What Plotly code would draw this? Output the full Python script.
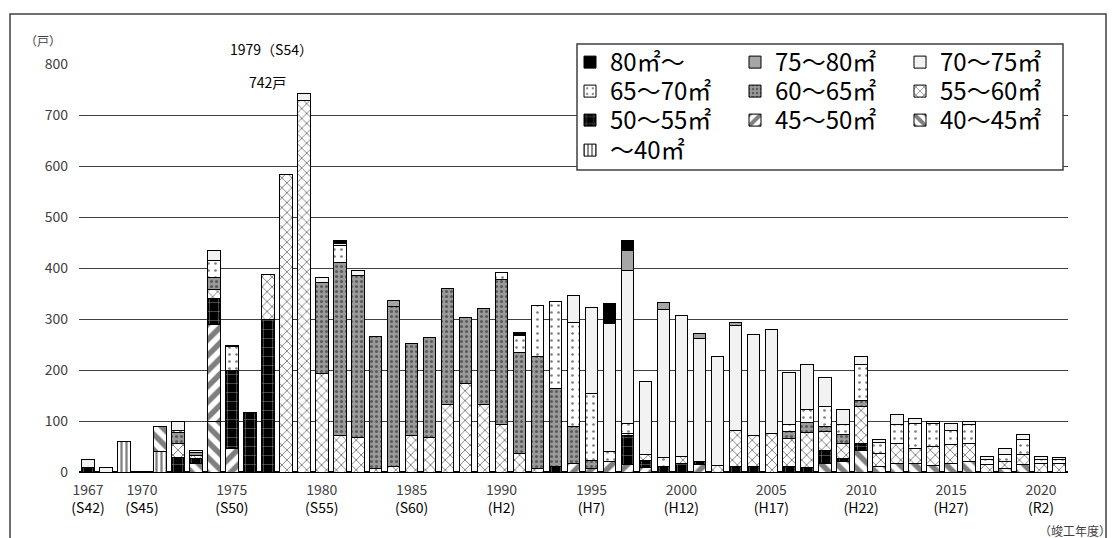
import plotly.graph_objects as go

years = list(range(1967, 2022))

# households by floor-area band (bottom -> top of each stack)
under40 = [0,0,60,0,40,0,0,0,0,0,
           0,0,0,0,0,0,0,0,0,0,
           0,0,0,0,0,0,0,0,0,0,
           0,0,0,0,0,0,0,0,0,0,
           0,0,0,0,0,0,0,0,0,0,
           0,0,0,0,0]
s40_45 = [0,0,0,0,50,0,17,100,0,0,
          0,0,0,0,0,0,0,0,0,0,
          0,0,0,0,0,0,0,0,0,0,
          0,0,0,0,0,0,0,0,0,0,
          0,17,20,43,10,17,17,12,17,21,
          0,7,14,0,0]
s45_50 = [0,0,0,0,0,0,0,190,46,0,
          0,0,0,0,0,0,0,0,0,0,
          0,0,0,0,0,0,0,16,7,20,
          14,9,0,0,14,0,0,0,0,0,
          0,0,0,0,0,0,0,0,0,0,
          0,0,0,0,0]
s50_55 = [8,0,0,0,0,28,10,50,154,116,
          299,0,0,0,0,0,0,0,0,0,
          0,0,0,0,0,0,10,0,0,0,
          58,14,10,16,7,0,11,10,0,10,
          9,25,7,13,0,0,0,0,0,0,
          0,0,0,0,0]
s55_60 = [0,0,0,0,0,28,5,18,0,0,
          88,583,728,193,72,68,6,11,72,67,
          133,174,133,93,36,6,0,0,0,0,
          4,12,0,15,0,12,71,62,76,55,
          68,37,29,72,27,39,29,38,36,35,
          14,13,21,17,17]
s60_65 = [0,0,0,0,0,22,6,24,0,0,
          0,0,0,178,339,318,260,314,179,196,
          226,129,188,285,198,220,153,73,16,0,
          0,0,0,0,0,0,0,0,0,15,
          20,10,18,13,0,0,0,0,0,0,
          0,0,0,0,0]
s65_70 = [0,0,0,0,0,3,0,33,46,0,
          0,0,0,0,34,0,0,0,0,0,
          0,0,0,14,34,100,172,204,131,20,
          19,0,18,0,0,0,0,0,0,14,
          26,39,20,70,20,38,49,45,29,37,
          11,15,29,8,7]
s70_75 = [16,9,0,0,0,19,4,20,0,0,
          0,0,14,10,3,10,0,0,0,0,
          0,0,0,0,0,0,0,53,168,252,
          301,143,290,275,241,214,206,198,204,101,
          88,57,29,16,7,19,10,5,13,6,
          5,11,10,5,4]
s75_80 = [0,0,0,0,0,0,0,0,3,0,
          0,0,0,0,0,0,0,11,0,0,
          0,0,0,0,0,0,0,0,0,0,
          38,0,14,0,10,0,5,0,0,0,
          0,0,0,0,0,0,0,0,0,0,
          0,0,0,0,0]
s80 = [0,0,0,0,0,0,0,0,0,0,
       0,0,0,0,5,0,0,0,0,0,
       0,0,0,0,5,0,0,0,0,38,
       19,0,0,0,0,0,0,0,0,0,
       0,0,0,0,0,0,0,0,0,0,
       0,0,0,0,0]

names = ["～40㎡", "40～45㎡", "45～50㎡", "50～55㎡", "55～60㎡",
         "60～65㎡", "65～70㎡", "70～75㎡", "75～80㎡", "80㎡～"]
series = [under40, s40_45, s45_50, s50_55, s55_60, s60_65, s65_70, s70_75, s75_80, s80]

tick_years = [1967, 1970, 1975, 1980, 1985, 1990, 1995, 2000, 2005, 2010, 2015, 2020]
tick_eras = ["(S42)", "(S45)", "(S50)", "(S55)", "(S60)", "(H2)", "(H7)", "(H12)",
             "(H17)", "(H22)", "(H27)", "(R2)"]

styles = [
    dict(color="white", pattern=dict(shape="|", fgcolor="black", bgcolor="white", size=5, solidity=0.45)),
    dict(color="white", pattern=dict(shape="\\", fgcolor="black", bgcolor="white", size=11, solidity=0.5)),
    dict(color="white", pattern=dict(shape="/", fgcolor="black", bgcolor="white", size=11, solidity=0.5)),
    dict(color="black", pattern=dict(shape="+", fgcolor="white", bgcolor="black", size=9, solidity=0.12)),
    dict(color="white", pattern=dict(shape="x", fgcolor="black", bgcolor="white", size=7, solidity=0.25)),
    dict(color="#8c8c8c", pattern=dict(shape=".", fgcolor="#1a1a1a", bgcolor="#9a9a9a", size=5, solidity=0.3)),
    dict(color="white", pattern=dict(shape=".", fgcolor="black", bgcolor="white", size=7, solidity=0.12)),
    dict(color="#f2f2f2"),
    dict(color="#a6a6a6"),
    dict(color="black"),
]
legend_of = ["legend4", "legend3", "legend3", "legend3", "legend2",
             "legend2", "legend2", "legend", "legend", "legend"]

FONT = "Noto Sans CJK JP"
fig = go.Figure()
for name, vals, st, lg in zip(names, series, styles, legend_of):
    marker = dict(color=st["color"], line=dict(color="black", width=1))
    if "pattern" in st:
        marker["pattern"] = st["pattern"]
    fig.add_trace(go.Bar(x=years, y=vals, name=name, marker=marker, legend=lg))

W, H = 1117, 538
L, R, T, B = 79, 49, 64, 66
pw, ph = W - L - R, H - T - B

def px_x(p):
    return (p - L) / pw

def px_y(p):
    return (H - B - p) / ph

leg_common = dict(orientation="h", traceorder="reversed", bgcolor="rgba(0,0,0,0)",
                  font=dict(family=FONT, size=24, color="black"),
                  entrywidth=120, entrywidthmode="pixels", xanchor="left", yanchor="top",
                  x=px_x(570), itemclick=False, tracegroupgap=0)
row_tops = [40, 69, 98, 128]

fig.update_layout(
    width=W, height=H,
    margin=dict(l=L, r=R, t=T, b=B, autoexpand=False),
    paper_bgcolor="white", plot_bgcolor="white",
    barmode="stack", bargap=0.3,
    font=dict(family=FONT, size=13, color="#404040"),
    legend=dict(**leg_common, y=px_y(row_tops[0])),
    legend2=dict(**leg_common, y=px_y(row_tops[1])),
    legend3=dict(**leg_common, y=px_y(row_tops[2])),
    legend4=dict(**leg_common, y=px_y(row_tops[3])),
    xaxis=dict(range=[1966.5, 2021.5], tickmode="array", tickvals=tick_years,
               ticktext=[f"{y}<br><span style='color:black'>{e}</span>" for y, e in zip(tick_years, tick_eras)],
               showgrid=False, zeroline=False, showline=False, ticks="", ticklabelstandoff=8,
               tickfont=dict(family=FONT, size=14, color="#404040")),
    yaxis=dict(range=[0, 800], dtick=100, showgrid=True, gridcolor="#404040", gridwidth=1,
               zeroline=True, zerolinecolor="black", zerolinewidth=1.5, ticks="", ticklabelstandoff=10,
               tickfont=dict(family=FONT, size=14, color="#404040")),
    showlegend=True,
)

shapes = [
    # outer frame
    dict(type="rect", xref="paper", yref="paper", x0=px_x(10), x1=px_x(1106), y0=px_y(560), y1=px_y(14),
         line=dict(color="#404040", width=1.5), fillcolor="rgba(0,0,0,0)", layer="below"),
    # legend box
    dict(type="rect", xref="paper", yref="paper", x0=px_x(577), x1=px_x(1063), y0=px_y(170), y1=px_y(44),
         line=dict(color="#404040", width=1.5), fillcolor="white", layer="above"),
]
fig.update_layout(shapes=shapes)

annots = [
    dict(text="1979（S54）", x=1977.2, y=px_y(49), xref="x", yref="paper"),
    dict(text="742戸", x=1977.0, y=px_y(82), xref="x", yref="paper"),
    dict(text="（戸）", x=px_x(43), y=px_y(41), xref="paper", yref="paper",
         font=dict(family=FONT, size=12, color="#404040")),
    dict(text="（竣工年度）", x=px_x(1075), y=px_y(530), xref="paper", yref="paper",
         font=dict(family=FONT, size=12, color="#404040")),
]
for a in annots:
    a.update(showarrow=False, xanchor="center", yanchor="middle")
    a.setdefault("font", dict(family=FONT, size=14, color="black"))
fig.update_layout(annotations=annots)

fig.write_html("out.html")
